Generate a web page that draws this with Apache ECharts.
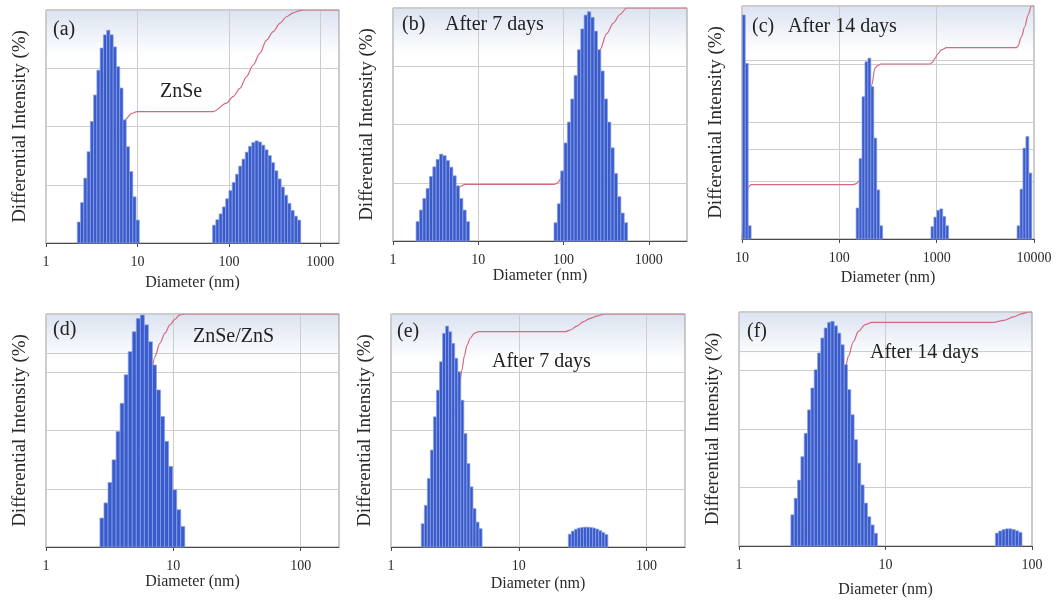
<!DOCTYPE html>
<html>
<head>
<meta charset="utf-8">
<script src="https://cdn.jsdelivr.net/npm/echarts@6/dist/echarts.min.js"></script>
<style>
  html, body { margin: 0; padding: 0; background: #ffffff; }
  #chart { width: 1059px; height: 605px; }
</style>
</head>
<body>
<div id="chart"></div>
<script>
// Size distributions: each peak is [first bin centre (nm), bin heights (% differential intensity)],
// bins are log-spaced with a fixed count per decade. Cumulative curves are [diameter (nm), cumulative %].

// (a) ZnSe
const A_BINS_PER_DECADE = 28;
const A_PEAKS = [
  [2.29, [0.54, 1.04, 1.67, 2.35, 3.13, 3.81, 4.45, 5.02, 5.36, 5.48, 5.36, 5.05, 4.54, 3.99, 3.17, 2.48, 1.84, 1.19, 0.59]],
  [69.1, [0.46, 0.6, 0.75, 0.93, 1.14, 1.35, 1.56, 1.77, 1.98, 2.16, 2.34, 2.49, 2.59, 2.63, 2.6, 2.52, 2.4, 2.25, 2.07, 1.86, 1.65, 1.44, 1.23, 1.02, 0.84, 0.69, 0.59]]
];
const A_CUMULATIVE = [[2.2, 0], [3, 4], [3.5, 9], [4, 16], [4.5, 24], [5, 32], [5.5, 39], [6, 44], [6.5, 48], [7.3, 52.8], [8.66, 55.6], [9.9, 56.4], [67.4, 56.4], [94.4, 60], [111, 62.8], [132, 66.4], [156, 71.4], [184, 76.4], [218, 81.4], [258, 87.1], [305, 90.7], [361, 94.3], [427, 97.1], [505, 98.8], [597, 99.7], [650, 100], [1600, 100]];

// (b) ZnSe after 7 days
const B_BINS_PER_DECADE = 25.5;
const B_PEAKS = [
  [1.95, [0.52, 0.83, 1.14, 1.41, 1.73, 1.99, 2.19, 2.33, 2.29, 2.16, 1.98, 1.75, 1.48, 1.14, 0.83, 0.52]],
  [80.8, [0.49, 1.0, 1.88, 2.63, 3.19, 3.81, 4.44, 5.13, 5.69, 6.06, 6.15, 6.0, 5.63, 5.13, 4.56, 3.81, 3.19, 2.5, 1.81, 1.19, 0.75, 0.49]]
];
const B_CUMULATIVE = [[1.95, 0], [2.2, 1.5], [2.5, 4], [2.8, 7.5], [3.2, 11.5], [3.6, 15], [4.1, 18], [4.7, 20], [5.3, 21.2], [5.6, 22], [6.2, 23.5], [7, 24.3], [78, 24.3], [85, 25], [97, 27.7], [116, 33.5], [139, 41.8], [167, 52.6], [199, 64.8], [239, 76.5], [267, 82], [320, 89], [383, 93.5], [458, 97.2], [549, 100], [2800, 100]];

// (c) ZnSe after 14 days
const C_BINS_PER_DECADE = 33;
const C_PEAKS = [
  [10.43, [12.5, 9.8, 0.74]],
  [154, [1.73, 4.49, 7.94, 9.89, 10.09, 8.5, 5.63, 2.74, 0.74]],
  [904, [0.69, 1.22, 1.6, 1.68, 1.26, 0.74]],
  [6934, [0.74, 2.78, 5.07, 5.72, 3.68]]
];
const C_CUMULATIVE = [[10, 0], [10.8, 12.5], [11.6, 22.3], [12.4, 23.3], [138, 23.3], [150, 23.8], [160, 25], [171, 29.5], [183, 37.5], [193, 47], [204, 58], [215, 66], [233, 73.5], [250, 74.5], [265, 75.1], [853, 75.1], [900, 75.8], [960, 77.5], [1030, 79.5], [1120, 81.2], [1265, 82.1], [6607, 82.1], [6856, 82.9], [7430, 86.8], [8035, 91.1], [8690, 96.1], [9400, 100], [10000, 100]];

// (d) ZnSe/ZnS
const D_BINS_PER_DECADE = 31.5;
const D_PEAKS = [
  [2.75, [1.49, 2.27, 3.32, 4.49, 5.95, 7.4, 8.87, 10.06, 11.09, 11.77, 11.95, 11.44, 10.57, 9.37, 8.09, 6.72, 5.44, 4.15, 2.95, 1.92, 1.06]]
];
const D_CUMULATIVE = [[2.65, 0], [3.0, 2], [3.4, 6], [3.8, 12], [4.2, 20], [4.6, 29], [5.0, 39], [5.5, 51], [6.0, 62], [6.6, 73], [7.16, 81.7], [7.84, 87.4], [8.58, 91.7], [9.39, 95.3], [10.27, 97.7], [11.25, 99.6], [12.3, 100], [200, 100]];

// (e) ZnSe/ZnS after 7 days
const E_BINS_PER_DECADE = 42;
const E_PEAKS = [
  [1.773, [1.6, 2.86, 4.7, 6.66, 8.94, 10.77, 12.72, 14.67, 15.17, 14.78, 13.98, 12.96, 12.03, 10.08, 7.79, 5.73, 4.13, 2.64, 1.71, 1.26]],
  [25.1, [0.88, 1.09, 1.22, 1.3, 1.34, 1.36, 1.36, 1.34, 1.3, 1.23, 1.12, 0.99, 0.85]]
];
const E_CUMULATIVE = [[1.75, 0], [2.0, 3], [2.2, 8], [2.4, 16], [2.6, 26], [2.8, 38], [3.0, 50], [3.2, 60], [3.4, 68], [3.59, 76], [3.75, 82], [3.93, 86.5], [4.17, 89.6], [4.48, 91.7], [4.84, 92.4], [23.1, 92.4], [25.2, 93.1], [28.5, 94.8], [32.1, 96.7], [36.2, 98.1], [40.8, 99.1], [47.4, 100], [200, 100]];

// (f) ZnSe/ZnS after 14 days
const F_BINS_PER_DECADE = 44;
const F_PEAKS = [
  [2.32, [1.6, 2.45, 3.38, 4.58, 5.78, 6.98, 8.1, 9.04, 9.9, 10.67, 11.18, 11.47, 11.52, 11.29, 10.92, 10.32, 9.3, 8.02, 6.73, 5.45, 4.25, 3.13, 2.2, 1.5, 1.08, 0.65]],
  [57.7, [0.66, 0.77, 0.84, 0.88, 0.88, 0.84, 0.78, 0.7]]
];
const F_CUMULATIVE = [[2.25, 0], [2.6, 3], [3.0, 9], [3.4, 18], [3.8, 30], [4.2, 43], [4.6, 56], [5.0, 67], [5.3, 76], [5.58, 81], [6.04, 87.4], [6.53, 91.7], [7.26, 94.6], [8.07, 95.6], [54.7, 95.6], [64, 96.4], [74.8, 97.9], [85.4, 99.3], [94.8, 100], [100, 100]];

const PANEL_TAGS = ['(a)', '(b)', '(c)', '(d)', '(e)', '(f)'];
const PANEL_NOTES = ['ZnSe', 'After 7 days', 'After 14 days', 'ZnSe/ZnS', 'After 7 days', 'After 14 days'];
const X_TITLE = 'Diameter (nm)';
const Y_TITLE = 'Differential Intensity (%)';

const PANEL_DATA = [
  { peaks: A_PEAKS, bpd: A_BINS_PER_DECADE, cumulative: A_CUMULATIVE },
  { peaks: B_PEAKS, bpd: B_BINS_PER_DECADE, cumulative: B_CUMULATIVE },
  { peaks: C_PEAKS, bpd: C_BINS_PER_DECADE, cumulative: C_CUMULATIVE },
  { peaks: D_PEAKS, bpd: D_BINS_PER_DECADE, cumulative: D_CUMULATIVE },
  { peaks: E_PEAKS, bpd: E_BINS_PER_DECADE, cumulative: E_CUMULATIVE },
  { peaks: F_PEAKS, bpd: F_BINS_PER_DECADE, cumulative: F_CUMULATIVE }
];

// Panel frames, axis ranges and annotation placement
const LAYOUT = [
  { left: 46,  top: 10,  width: 293, height: 233, xMin: 1,  xMax: 1600,  barMax: 6,    barStep: null, nameGap: 32, tag: [53, 30],   note: [160, 92] },
  { left: 393, top: 8,   width: 294, height: 233, xMin: 1,  xMax: 2800,  barMax: 6.25, barStep: null, nameGap: 24, tag: [402, 25],  note: [445, 25] },
  { left: 742, top: 6,   width: 292, height: 233, xMin: 10, xMax: 10000, barMax: 13,   barStep: 5,    nameGap: 31, tag: [752, 27],  note: [788, 27] },
  { left: 46,  top: 314, width: 293, height: 233, xMin: 1,  xMax: 200,   barMax: 12,   barStep: 10,   nameGap: 25, tag: [53, 330],  note: [193, 337] },
  { left: 391, top: 314, width: 294, height: 233, xMin: 1,  xMax: 200,   barMax: 16,   barStep: 10,   nameGap: 29, tag: [397, 332], note: [492, 362] },
  { left: 739, top: 312, width: 293, height: 234, xMin: 1,  xMax: 100,   barMax: 12,   barStep: 10,   nameGap: 36, tag: [747, 332], note: [870, 353] }
];

const SERIF = '"Liberation Serif", "Times New Roman", serif';
const BAR_FILL = '#3a5bcc';
const BAR_EDGE = '#8ea3e4';
const CURVE_COLOR = '#d4697f';
const GRID_LINE = '#cdcdcd';

function binPoints(peaks, bpd) {
  const pts = [];
  peaks.forEach(([start, heights]) => {
    heights.forEach((h, i) => pts.push([start * Math.pow(10, i / bpd), h]));
  });
  return pts;
}

function barRenderer(bpd) {
  const half = Math.pow(10, 0.5 / bpd);
  return function (params, api) {
    const d = api.value(0);
    const h = api.value(1);
    const tl = api.coord([d / half, h]);
    const br = api.coord([d * half, 0]);
    return {
      type: 'rect',
      shape: { x: tl[0], y: tl[1], width: br[0] - tl[0], height: br[1] - tl[1] },
      style: { fill: BAR_FILL, stroke: BAR_EDGE, lineWidth: 0.7 }
    };
  };
}

const grids = [], xAxes = [], yAxes = [], series = [], graphics = [];

LAYOUT.forEach((L, k) => {
  const P = PANEL_DATA[k];
  grids.push({
    left: L.left, top: L.top, width: L.width, height: L.height,
    containLabel: false,
    show: true,
    borderColor: '#999999',
    borderWidth: 1,
    backgroundColor: {
      type: 'linear', x: 0, y: 0, x2: 0, y2: 1,
      colorStops: [
        { offset: 0, color: '#dbe3f1' },
        { offset: 0.2, color: '#ffffff' },
        { offset: 1, color: '#ffffff' }
      ]
    }
  });

  xAxes.push({
    type: 'log', logBase: 10, gridIndex: k,
    min: L.xMin, max: L.xMax,
    name: X_TITLE, nameLocation: 'middle', nameGap: L.nameGap,
    nameTextStyle: { fontFamily: SERIF, fontSize: 16, color: '#2a2a2a' },
    axisLine: { show: true, lineStyle: { color: '#4a4a4a', width: 1 } },
    axisTick: { show: true, inside: false, length: 4, lineStyle: { color: '#4a4a4a' } },
    axisLabel: {
      show: true, margin: 12, fontFamily: SERIF, fontSize: 14, color: '#2a2a2a',
      showMaxLabel: [10, 100, 1000, 10000].indexOf(L.xMax) >= 0,
      formatter: v => String(Math.round(v))
    },
    splitLine: { show: true, lineStyle: { color: GRID_LINE, width: 1 } },
    minorTick: { show: false }, minorSplitLine: { show: false }
  });

  // cumulative percentage axis
  yAxes.push({
    type: 'value', gridIndex: k, position: 'left',
    min: 0, max: 100, interval: 25,
    axisLine: { show: false }, axisTick: { show: false }, axisLabel: { show: false },
    splitLine: { show: true, lineStyle: { color: GRID_LINE, width: 1 } }
  });

  // differential intensity axis
  const barAxis = {
    type: 'value', gridIndex: k, position: 'left',
    min: 0, max: L.barMax,
    name: Y_TITLE, nameLocation: 'middle', nameRotate: 90, nameGap: 16,
    nameTextStyle: { fontFamily: SERIF, fontSize: 19, color: '#2a2a2a' },
    axisLine: { show: false }, axisTick: { show: false }, axisLabel: { show: false },
    splitLine: { show: !!L.barStep, lineStyle: { color: GRID_LINE, width: 1 } }
  };
  if (L.barStep) barAxis.interval = L.barStep;
  yAxes.push(barAxis);

  series.push({
    type: 'line', xAxisIndex: k, yAxisIndex: 2 * k,
    data: P.cumulative,
    showSymbol: false, smooth: 0.3, smoothMonotone: 'x',
    lineStyle: { color: CURVE_COLOR, width: 1.2 },
    silent: true, z: 2
  });

  series.push({
    type: 'custom', xAxisIndex: k, yAxisIndex: 2 * k + 1,
    data: binPoints(P.peaks, P.bpd),
    encode: { x: 0, y: 1 },
    renderItem: barRenderer(P.bpd),
    silent: true, z: 3
  });

  graphics.push({
    type: 'text', x: L.tag[0], y: L.tag[1], z: 10,
    style: { text: PANEL_TAGS[k], font: '20px ' + SERIF, fill: '#222222', verticalAlign: 'middle' }
  });
  graphics.push({
    type: 'text', x: L.note[0], y: L.note[1], z: 10,
    style: { text: PANEL_NOTES[k], font: '20px ' + SERIF, fill: '#222222', verticalAlign: 'middle' }
  });
});

const chart = echarts.init(document.getElementById('chart'), null, { renderer: 'canvas' });
chart.setOption({
  animation: false,
  backgroundColor: '#ffffff',
  grid: grids,
  xAxis: xAxes,
  yAxis: yAxes,
  series: series,
  graphic: graphics
});
</script>
</body>
</html>
